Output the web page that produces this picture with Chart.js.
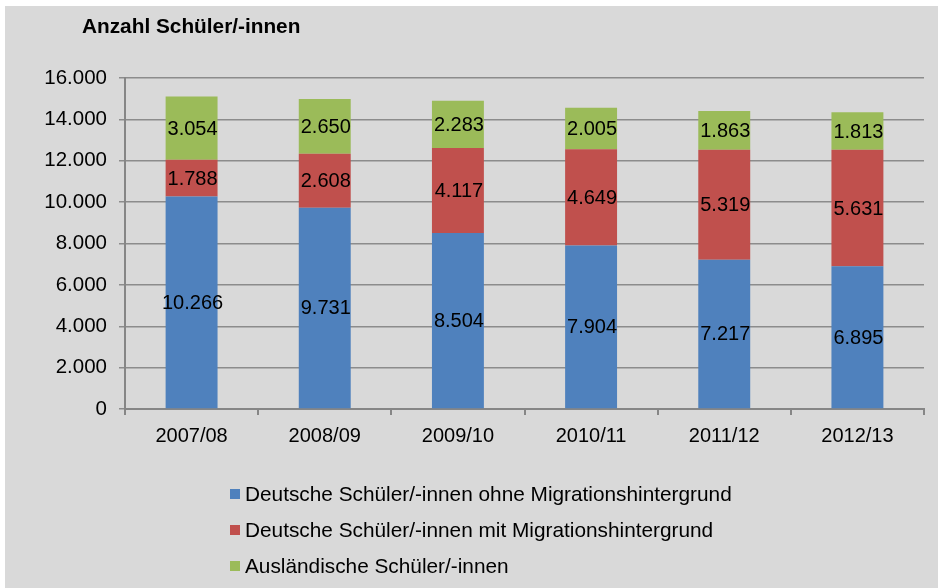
<!DOCTYPE html>
<html>
<head>
<meta charset="utf-8">
<script src="https://cdn.jsdelivr.net/npm/chart.js@4"></script>
<style>
  html, body { margin: 0; padding: 0; background: #ffffff; }
  #box { position: absolute; left: 5px; top: 6px; width: 933px; height: 582px; background: #d9d9d9; }
</style>
</head>
<body>
<div id="box"><canvas id="grafico" width="933" height="582"></canvas></div>
<script>
// dados
const jahre = ["2007/08", "2008/09", "2009/10", "2010/11", "2011/12", "2012/13"];
const ohneMigration = [10266, 9731, 8504, 7904, 7217, 6895];
const mitMigration = [1788, 2608, 4117, 4649, 5319, 5631];
const auslaendisch = [3054, 2650, 2283, 2005, 1863, 1813];
const serienNamen = [
  "Deutsche Schüler/-innen ohne Migrationshintergrund",
  "Deutsche Schüler/-innen mit Migrationshintergrund",
  "Ausländische Schüler/-innen"
];
const titel = "Anzahl Schüler/-innen";

const fonte = "'Liberation Sans', Arial, sans-serif";
const cinza = "#868686";

// formata 12345 -> 12.345
function formatarZahl(v) {
  return String(Math.round(v)).replace(/\B(?=(\d{3})+(?!\d))/g, ".");
}

// rótulos dentro das barras
const rotulosPlugin = {
  id: "rotulos",
  afterDatasetsDraw(chart) {
    const ctx = chart.ctx;
    ctx.save();
    ctx.font = "20px " + fonte;
    ctx.fillStyle = "#000";
    ctx.textAlign = "center";
    ctx.textBaseline = "middle";
    chart.data.datasets.forEach((ds, i) => {
      chart.getDatasetMeta(i).data.forEach((bar, j) => {
        const y = (bar.y + bar.base) / 2;
        ctx.fillText(formatarZahl(ds.data[j]), bar.x + 1, y + 1);
      });
    });
    ctx.restore();
  }
};

// título e legenda
const extrasPlugin = {
  id: "extras",
  afterDraw(chart) {
    const ctx = chart.ctx;
    ctx.save();
    ctx.fillStyle = "#000";
    ctx.font = "bold 20.8px " + fonte;
    ctx.textAlign = "left";
    ctx.textBaseline = "alphabetic";
    ctx.fillText(titel, 77, 27);

    ctx.font = "20.8px " + fonte;
    ctx.textBaseline = "middle";
    chart.data.datasets.forEach((ds, i) => {
      const cy = 488 + i * 36;
      ctx.fillStyle = ds.backgroundColor;
      ctx.fillRect(225, cy - 5, 10, 10);
      ctx.fillStyle = "#000";
      ctx.fillText(ds.label, 240, cy + 1);
    });
    ctx.restore();
  }
};

new Chart(document.getElementById("grafico"), {
  type: "bar",
  data: {
    labels: jahre,
    datasets: [
      { label: serienNamen[0], data: ohneMigration, backgroundColor: "#4f81bd" },
      { label: serienNamen[1], data: mitMigration, backgroundColor: "#c0504d" },
      { label: serienNamen[2], data: auslaendisch, backgroundColor: "#9bbb59" }
    ]
  },
  options: {
    responsive: false,
    animation: false,
    devicePixelRatio: 1,
    categoryPercentage: 0.39,
    barPercentage: 1,
    layout: { padding: { top: 72, right: 14, bottom: 139, left: 0 } },
    plugins: {
      legend: { display: false },
      tooltip: { enabled: false },
      title: { display: false }
    },
    scales: {
      x: {
        stacked: true,
        afterFit: (s) => { s.height = 40; },
        border: { color: cinza, width: 2 },
        grid: { offset: true, drawOnChartArea: false, color: cinza, tickLength: 6, lineWidth: 2 },
        ticks: { color: "#000", font: { family: fonte, size: 20 }, padding: 9 }
      },
      y: {
        stacked: true,
        min: 0,
        max: 16000,
        afterFit: (s) => { s.width = 120; },
        border: { color: cinza, width: 2 },
        grid: { color: "#8c8c8c", lineWidth: 1.5, tickLength: 6 },
        ticks: { stepSize: 2000, color: "#000", font: { family: fonte, size: 20.5 }, padding: 12,
                 callback: (v) => formatarZahl(v) }
      }
    }
  },
  plugins: [rotulosPlugin, extrasPlugin]
});
</script>
</body>
</html>
